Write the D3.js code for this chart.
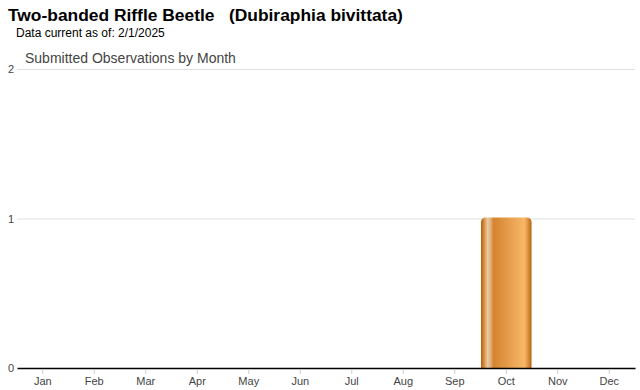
<!DOCTYPE html>
<html>
<head>
<meta charset="utf-8">
<script src="https://cdn.jsdelivr.net/npm/d3@7"></script>
<style>
  body { margin: 0; background: #fff; }
  svg { display: block; }
</style>
</head>
<body>
<div id="chart"></div>
<script>
const months = ["Jan", "Feb", "Mar", "Apr", "May", "Jun", "Jul", "Aug", "Sep", "Oct", "Nov", "Dec"];
const counts = [0, 0, 0, 0, 0, 0, 0, 0, 0, 1, 0, 0];
const yTicks = [0, 1, 2];

const titleText = "Two-banded Riffle Beetle\u00a0\u00a0\u00a0(Dubiraphia bivittata)";
const subText = "Data current as of: 2/1/2025";
const chartTitle = "Submitted Observations by Month";

const width = 640, height = 390;
const margin = { top: 69, right: 5, bottom: 22, left: 17 };
const innerW = width - margin.left - margin.right;
const innerH = height - margin.top - margin.bottom;

const svg = d3.select("#chart")
  .append("svg")
  .attr("width", width)
  .attr("height", height)
  .style("font-family", "Arial, 'Liberation Sans', sans-serif");

// bar gradient, dark edges and a pale streak on the left
const grad = svg.append("defs").append("linearGradient")
  .attr("id", "barGrad")
  .attr("x1", "0%").attr("x2", "100%")
  .attr("y1", "0%").attr("y2", "0%");
[
  [0, "#b0600c"], [0.05, "#d08538"], [0.13, "#ebcaa0"], [0.19, "#e2b07a"],
  [0.25, "#d4842f"], [0.55, "#e79d4d"], [0.86, "#f7b768"], [0.94, "#d98c38"], [1, "#b0600c"]
].forEach(function (s) {
  grad.append("stop").attr("offset", s[0]).attr("stop-color", s[1]);
});

svg.append("text")
  .attr("x", 8).attr("y", 21)
  .style("font-size", "17.4px")
  .style("font-weight", "bold")
  .attr("fill", "#000")
  .text(titleText);

svg.append("text")
  .attr("x", 16).attr("y", 37)
  .style("font-size", "12px")
  .attr("fill", "#000")
  .text(subText);

svg.append("text")
  .attr("x", 25).attr("y", 63)
  .style("font-size", "14px")
  .attr("fill", "#444")
  .text(chartTitle);

const g = svg.append("g")
  .attr("transform", "translate(" + margin.left + "," + margin.top + ")");

let x = d3.scaleBand()
  .domain(months)
  .range([0, innerW])
  .padding(0);

let y = d3.scaleLinear()
  .domain([0, 2])
  .range([innerH, 0]);

// gridlines
g.selectAll(".grid")
  .data(yTicks.filter(function (d) { return d > 0; }))
  .enter()
  .append("line")
  .attr("x1", 0).attr("x2", innerW)
  .attr("y1", function (d) { return y(d) + 0.5; })
  .attr("y2", function (d) { return y(d) + 0.5; })
  .attr("stroke", "#e0e0e0");

// y labels
g.selectAll(".ylab")
  .data(yTicks)
  .enter()
  .append("text")
  .attr("x", -9)
  .attr("y", function (d) { return y(d) + 4; })
  .attr("text-anchor", "start")
  .style("font-size", "11px")
  .attr("fill", "#444")
  .text(String);

// bars with rounded top corners
const r = 5;
g.selectAll(".bar")
  .data(months.map(function (m, i) { return { m: m, v: counts[i] }; }).filter(function (d) { return d.v > 0; }))
  .enter()
  .append("path")
  .attr("fill", "url(#barGrad)")
  .attr("d", function (d) {
    let x0 = x(d.m) + 0.5, x1 = x(d.m) + x.bandwidth() - 0.5;
    let y0 = y(d.v) - 1, yb = y(0);
    return "M" + x0 + "," + yb +
      "V" + (y0 + r) +
      "Q" + x0 + "," + y0 + " " + (x0 + r) + "," + y0 +
      "H" + (x1 - r) +
      "Q" + x1 + "," + y0 + " " + x1 + "," + (y0 + r) +
      "V" + yb + "Z";
  });

// x axis
const xAxis = g.append("g")
  .attr("transform", "translate(0," + innerH + ")")
  .call(d3.axisBottom(x).tickSize(5).tickPadding(4).tickSizeOuter(0));
xAxis.select(".domain").attr("stroke", "#000").attr("stroke-width", 1.5);
xAxis.selectAll(".tick line").attr("stroke", "#ccc").attr("transform", "translate(0,1)");
xAxis.selectAll(".tick text")
  .style("font-size", "11px")
  .style("font-family", "Arial, 'Liberation Sans', sans-serif")
  .attr("fill", "#444");
</script>
</body>
</html>
